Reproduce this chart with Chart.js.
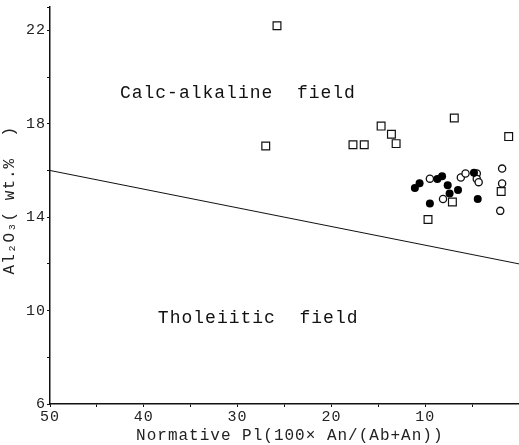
<!DOCTYPE html>
<html>
<head>
<meta charset="utf-8">
<script src="https://cdn.jsdelivr.net/npm/chart.js@4"></script>
<style>
  html, body { margin: 0; padding: 0; background: #fff; }
  #wrap { width: 519px; height: 445px; }
</style>
</head>
<body>
<div id="wrap"><canvas id="out"></canvas></div>
<script>
// squares (dotted)
const squareX = [25.8, 27.0, 17.7, 16.5, 14.7, 13.6, 13.1, 6.9, 1.1, 7.1, 9.7, 1.9];
const squareY = [22.2, 17.05, 17.1, 17.1, 17.9, 17.55, 17.15, 18.25, 17.45, 14.65, 13.9, 15.1];
// filled circles
const filledX = [11.1, 10.6, 8.7, 8.2, 7.6, 7.4, 6.5, 9.5, 4.8, 4.4];
const filledY = [15.25, 15.45, 15.63, 15.75, 15.37, 15.01, 15.16, 14.59, 15.9, 14.78];
// open circles
const openX = [9.5, 8.1, 6.2, 5.7, 4.5, 4.5, 4.3, 1.8, 1.8, 2.0];
const openY = [15.65, 14.78, 15.7, 15.87, 15.87, 15.64, 15.5, 16.08, 15.44, 14.27];
// dividing line
const lineX = [50, 0];
const lineY = [16, 12];

const xTitle = " Normative Pl(100\u00d7 An/(Ab+An))";
const yTitle = " Al\u2082O\u2083( wt.%  )";
const fieldLabels = ["Calc-alkaline  field", "Tholeiitic  field"];

function toPoints(xs, ys) {
    const result = [];
    for (let i = 0; i < xs.length; i++) {
        result.push({ x: xs[i], y: ys[i] });
    }
    return result;
}

const FONT = "'Liberation Mono', 'DejaVu Sans Mono', monospace";

const spacingPlugin = {
    id: "spacing",
    beforeDraw(chart) {
        chart.ctx.letterSpacing = "1px";
    }
};

const labelPlugin = {
    id: "fieldLabels",
    afterDatasetsDraw(chart) {
        const ctx = chart.ctx;
        const xs = chart.scales.x;
        const ys = chart.scales.y;
        const spots = [[42.55, 19.3], [38.5, 9.68]];
        ctx.save();
        ctx.fillStyle = "#111";
        ctx.font = "18px " + FONT;
        ctx.letterSpacing = "1px";
        ctx.textAlign = "left";
        ctx.textBaseline = "middle";
        for (let i = 0; i < fieldLabels.length; i++) {
            ctx.fillText(fieldLabels[i], xs.getPixelForValue(spots[i][0]), ys.getPixelForValue(spots[i][1]));
        }
        ctx.restore();
    }
};

const squares = toPoints(squareX, squareY);

const chartConfig = {
    type: "scatter",
    data: {
        datasets: [
            {
                label: "divide",
                type: "line",
                data: toPoints(lineX, lineY),
                borderColor: "#111",
                borderWidth: 1,
                pointRadius: 0,
                fill: false
            },
            {
                label: "squares",
                data: squares,
                pointStyle: "rect",
                pointRadius: 5.5,
                borderColor: "#111",
                borderWidth: 1.2,
                backgroundColor: "#fff"
            },
            {
                label: "squareDots",
                data: squares,
                pointRadius: 1,
                borderWidth: 0,
                backgroundColor: "#111"
            },
            {
                label: "filled",
                data: toPoints(filledX, filledY),
                pointRadius: 4,
                borderWidth: 0,
                backgroundColor: "#000"
            },
            {
                label: "open",
                data: toPoints(openX, openY),
                pointRadius: 3.6,
                borderWidth: 1.3,
                borderColor: "#111",
                backgroundColor: "#fff"
            }
        ]
    },
    options: {
        responsive: true,
        maintainAspectRatio: false,
        animation: false,
        layout: { autoPadding: false, padding: { top: 7, right: 0, left: 0, bottom: 0 } },
        plugins: {
            legend: { display: false },
            tooltip: { enabled: false }
        },
        scales: {
            x: {
                type: "linear",
                reverse: true,
                min: 0,
                max: 50,
                afterFit(scale) {
                    scale.height = 41;
                    scale.paddingLeft = 0;
                    scale.paddingRight = 0;
                },
                border: { color: "#111", width: 1.5 },
                grid: { drawOnChartArea: false, tickLength: 3, color: "#111" },
                ticks: {
                    stepSize: 5,
                    padding: 1,
                    color: "#222",
                    font: { family: FONT, size: 15 },
                    maxRotation: 0,
                    callback: v => (v % 10 === 0 && v !== 0) ? String(v) : ""
                },
                title: {
                    display: true,
                    text: xTitle,
                    color: "#222",
                    font: { family: FONT, size: 16 },
                    padding: { top: 0, bottom: 0 }
                }
            },
            y: {
                type: "linear",
                min: 6,
                max: 23,
                afterFit(scale) {
                    scale.width = 50;
                    scale.paddingTop = 0;
                    scale.paddingBottom = 0;
                },
                border: { color: "#111", width: 1.5 },
                grid: { drawOnChartArea: false, tickLength: 3, color: "#111" },
                ticks: {
                    stepSize: 2,
                    padding: 1,
                    color: "#222",
                    font: { family: FONT, size: 15 },
                    callback: v => ((v - 6) % 4 === 0) ? String(v) : ""
                },
                title: {
                    display: true,
                    text: yTitle,
                    color: "#222",
                    font: { family: FONT, size: 16 },
                    padding: { top: 0, bottom: 1 }
                }
            }
        }
    },
    plugins: [spacingPlugin, labelPlugin]
};

const canvasCtx = document.getElementById("out").getContext("2d");
window.chart = new Chart(canvasCtx, chartConfig);
</script>
</body>
</html>
